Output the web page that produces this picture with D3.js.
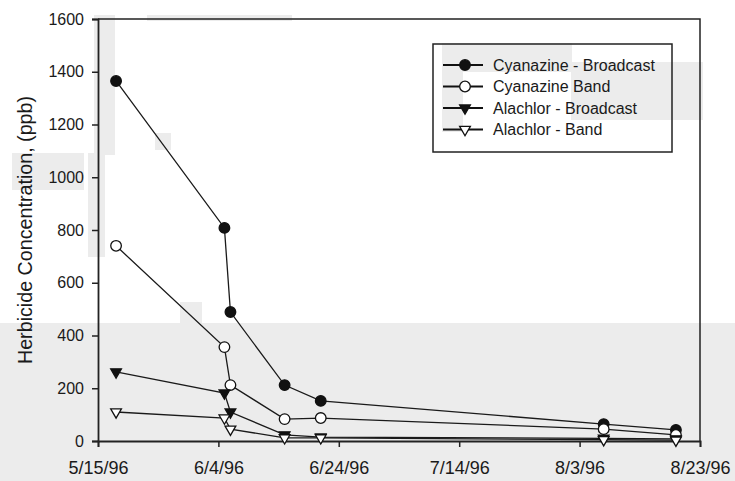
<!DOCTYPE html>
<html>
<head>
<meta charset="utf-8">
<script src="https://cdn.jsdelivr.net/npm/d3@7"></script>
<style>
  body { margin: 0; background: #fff; }
  text { font-family: "Liberation Sans", Arial, sans-serif; fill: #1a1a1a; }
</style>
</head>
<body>
<div id="chart"></div>
<script>
// sampling dates (same for every series)
var sampleDates = ['1996-05-18', '1996-06-05', '1996-06-06', '1996-06-15', '1996-06-21', '1996-08-07', '1996-08-19'];

var cyanazineBroadcast = [1365, 808, 489, 212, 152, 64, 42];
var cyanazineBand      = [740, 356, 212, 83, 87, 45, 23];
var alachlorBroadcast  = [262, 182, 110, 23, 15, 10, 8];
var alachlorBand       = [110, 87, 45, 12, 12, 5, 3];

var seriesNames = ['Cyanazine - Broadcast', 'Cyanazine Band', 'Alachlor - Broadcast', 'Alachlor - Band'];
var xTickDates = ['1996-05-15', '1996-06-04', '1996-06-24', '1996-07-14', '1996-08-03', '1996-08-23'];
var xTickLabels = ['5/15/96', '6/4/96', '6/24/96', '7/14/96', '8/3/96', '8/23/96'];
var yTicks = [0, 200, 400, 600, 800, 1000, 1200, 1400, 1600];

// light grey blotches from the scanned original
var shading = [
  [0, 323, 735, 158], [180, 302, 22, 21], [94, 15, 21, 140], [12, 153, 72, 37],
  [88, 153, 17, 104], [155, 133, 16, 17], [442, 43, 130, 29], [571, 62, 132, 58],
  [442, 72, 21, 60], [147, 15, 145, 6]
];

var width = 735, height = 481;
var parse = d3.utcParse('%Y-%m-%d');

var series = [
  { name: seriesNames[0], values: cyanazineBroadcast, shape: 'circle', fill: '#111' },
  { name: seriesNames[1], values: cyanazineBand, shape: 'circle', fill: '#fff' },
  { name: seriesNames[2], values: alachlorBroadcast, shape: 'tri', fill: '#111' },
  { name: seriesNames[3], values: alachlorBand, shape: 'tri', fill: '#fff' }
];

var x = d3.scaleUtc()
  .domain([parse(xTickDates[0]), parse(xTickDates[xTickDates.length - 1])])
  .range([98, 700]);
var y = d3.scaleLinear()
  .domain([0, 1600])
  .range([441, 19]);

var svg = d3.select('#chart')
  .append('svg')
    .attr('width', width)
    .attr('height', height);

svg.selectAll('rect.shade')
  .data(shading)
  .enter().append('rect')
    .classed('shade', true)
    .attr('x', function (d) { return d[0]; })
    .attr('y', function (d) { return d[1]; })
    .attr('width', function (d) { return d[2]; })
    .attr('height', function (d) { return d[3]; })
    .style('fill', '#ececec');

// frame: top and right
svg.append('path')
  .attr('d', 'M' + x.range()[0] + ',' + y(1600) + 'H' + x.range()[1] + 'V' + y(0))
  .style('fill', 'none')
  .style('stroke', '#222')
  .style('stroke-width', 1.5);

var xAxis = svg.append('g')
  .attr('transform', 'translate(0,' + y(0) + ')')
  .call(d3.axisBottom(x)
    .tickValues(xTickDates.map(parse))
    .tickFormat(function (d, i) { return xTickLabels[i]; })
    .tickSize(6)
    .tickPadding(14));
xAxis.selectAll('text').style('font-size', '18px');

var yAxis = svg.append('g')
  .attr('transform', 'translate(' + x.range()[0] + ',0)')
  .call(d3.axisLeft(y)
    .tickValues(yTicks)
    .tickFormat(d3.format('d'))
    .tickSize(6)
    .tickPadding(8));
yAxis.selectAll('text').style('font-size', '16px');

svg.selectAll('.domain').style('stroke', '#222').style('stroke-width', 1.8);
svg.selectAll('.tick line').style('stroke', '#222').style('stroke-width', 1.5);

svg.append('text')
  .attr('transform', 'translate(25,230) rotate(-90)')
  .attr('text-anchor', 'middle')
  .attr('dominant-baseline', 'central')
  .style('font-size', '19.7px')
  .text('Herbicide Concentration, (ppb)');

var line = d3.line()
  .x(function (d) { return x(d.date); })
  .y(function (d) { return y(d.value); });

var tri = d3.symbol().type(d3.symbolTriangle).size(50);

function drawMarker(sel, s) {
  if (s.shape === 'circle') {
    sel.append('circle').attr('r', 5.3);
  } else {
    sel.append('path').attr('d', tri).attr('transform', 'rotate(180)');
  }
  sel.selectAll('circle, path')
    .style('fill', s.fill)
    .style('stroke', '#111')
    .style('stroke-width', 1.3);
}

var g = svg.selectAll('g.series')
  .data(series)
  .enter().append('g')
    .classed('series', true);

g.append('path')
  .attr('d', function (s) {
    return line(s.values.map(function (v, i) { return { date: parse(sampleDates[i]), value: v }; }));
  })
  .style('fill', 'none')
  .style('stroke', '#1a1a1a')
  .style('stroke-width', 1.3);

g.each(function (s) {
  var grp = d3.select(this);
  s.values.forEach(function (v, i) {
    var m = grp.append('g')
      .attr('transform', 'translate(' + x(parse(sampleDates[i])) + ',' + y(v) + ')');
    drawMarker(m, s);
  });
});

// legend
var legend = svg.append('g');
legend.append('rect')
  .attr('x', 433).attr('y', 44)
  .attr('width', 239).attr('height', 108)
  .style('fill', 'none')
  .style('stroke', '#222')
  .style('stroke-width', 1.5);

var item = legend.selectAll('g.item')
  .data(series)
  .enter().append('g')
    .classed('item', true)
    .attr('transform', function (s, i) { return 'translate(0,' + (65 + i * 21.5) + ')'; });

item.append('line')
  .attr('x1', 443).attr('x2', 483)
  .style('stroke', '#111')
  .style('stroke-width', 1.8);
item.each(function (s) {
  var m = d3.select(this).append('g').attr('transform', 'translate(465,0)');
  drawMarker(m, s);
});
item.append('text')
  .attr('x', 493)
  .attr('dominant-baseline', 'central')
  .style('font-size', '16px')
  .text(function (s) { return s.name; });
</script>
</body>
</html>
